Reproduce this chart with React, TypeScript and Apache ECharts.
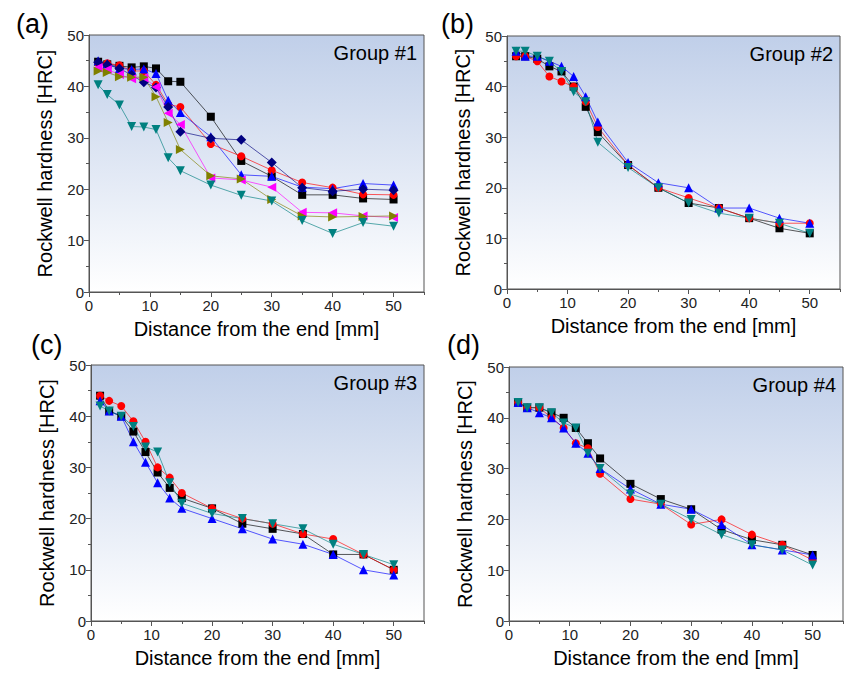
import React, { useEffect, useRef } from "react";
import * as echarts from "echarts";

const X = [1.5, 3, 5, 7, 9, 11, 13, 15, 20, 25, 30, 35, 40, 45, 50];
const TICKS_X = [0, 10, 20, 30, 40, 50];

// Group #1
const g1Black = [44.8, 44.3, 44.0, 43.7, 43.9, 43.5, 41.0, 40.9, 34.1, 25.5, 22.5, 18.9, 18.9, 18.2, 18.0];
const g1Red = [44.5, 44.5, 44.1, 43.0, 43.0, 40.3, 36.5, 36.0, 28.8, 26.4, 23.7, 21.3, 20.3, 19.0, 18.9];
const g1Blue = [45.0, 44.4, 43.5, 43.3, 43.4, 42.5, 37.3, 34.9, 30.2, 22.8, 22.5, 20.4, 20.1, 21.1, 20.8];
const g1Navy = [44.7, 44.2, 43.5, 42.2, 40.8, 39.8, 36.0, 31.2, 29.9, 29.6, 25.2, 20.3, 19.6, 20.0, 19.8];
const g1Magenta = [43.7, 43.3, 42.3, 41.5, 41.7, 39.9, 34.8, 32.6, 22.2, 21.8, 20.4, 15.5, 15.4, 14.8, 14.5];
const g1Olive = [43.0, 42.7, 41.9, 41.8, 41.8, 38.0, 33.0, 27.7, 22.6, 22.0, 18.0, 14.8, 14.6, 14.7, 14.8];
const g1Teal = [40.3, 38.4, 36.4, 32.2, 32.1, 31.6, 26.1, 23.6, 20.8, 18.8, 17.7, 13.9, 11.4, 13.5, 12.8];

// Group #2
const g2Black = [46, 46, 45.5, 44, 43, 40, 36, 31, 24.5, 20, 17, 16, 14, 12, 11];
const g2Red = [46, 46, 45, 42, 41, 40, 37, 32, 24.5, 20, 18, 16, 14, 13, 13];
const g2Blue = [47, 46, 46, 45, 44, 42, 38, 33, 25, 21, 20, 16, 16, 14, 13];
const g2Teal = [47, 47, 46, 45, 43, 39, 37, 29, 24, 20, 17, 15, 14, 13, 11];

// Group #3
const g3Black = [44, 41, 40, 37, 33, 29, 26, 24, 22, 19, 18, 17, 13, 13, 10];
const g3Red = [44, 43, 42, 39, 35, 30, 28, 25, 22, 20, 19, 17, 16, 13, 10];
const g3Blue = [43, 41, 40, 35, 31, 27, 24, 22, 20, 18, 16, 15, 13, 10, 9];
const g3Teal = [42, 41, 40, 38, 34, 33, 27, 23, 21, 20, 19, 18, 15, 13, 11];

// Group #4
const g4Black = [43, 42, 42, 41, 40, 38, 35, 32, 27, 24, 22, 18, 16, 15, 13];
const g4Red = [43, 42, 42, 40, 38, 35, 34, 29, 24, 23, 19, 20, 17, 15, 12];
const g4Blue = [43, 42, 41, 40, 38, 35, 33, 30, 26, 23, 22, 19, 15, 14, 13];
const g4Teal = [43, 42, 42, 41, 39, 38, 33, 30, 25, 23, 20, 17, 15, 14, 11];

const PANEL_LABELS = ["(a)", "(b)", "(c)", "(d)"];
const GROUP_LABELS = ["Group #1", "Group #2", "Group #3", "Group #4"];
const X_NAME = "Distance from the end [mm]";
const Y_NAME = "Rockwell hardness [HRC]";

const STYLE = {
  black: { color: "#000000", symbol: "rect", rotate: 0, size: 8 },
  red: { color: "#ff0000", symbol: "circle", rotate: 0, size: 8 },
  blue: { color: "#0000ff", symbol: "triangle", rotate: 0, size: 9 },
  navy: { color: "#000080", symbol: "diamond", rotate: 0, size: 10 },
  magenta: { color: "#ff00ff", symbol: "triangle", rotate: 90, size: 9 },
  olive: { color: "#808000", symbol: "triangle", rotate: -90, size: 9 },
  teal: { color: "#008080", symbol: "triangle", rotate: 180, size: 9 },
};

const PANELS = [
  { series: [["black", g1Black], ["red", g1Red], ["blue", g1Blue], ["navy", g1Navy], ["magenta", g1Magenta], ["olive", g1Olive], ["teal", g1Teal]] },
  { series: [["black", g2Black], ["red", g2Red], ["blue", g2Blue], ["teal", g2Teal]] },
  { series: [["black", g3Black], ["red", g3Red], ["blue", g3Blue], ["teal", g3Teal]] },
  { series: [["black", g4Black], ["red", g4Red], ["blue", g4Blue], ["teal", g4Teal]] },
];

const GRIDS = [
  { left: 89, top: 35, width: 335, height: 257 },
  { left: 507, top: 36, width: 333, height: 253 },
  { left: 91, top: 365, width: 333, height: 256 },
  { left: 509, top: 367, width: 334, height: 254 },
];

const FONT = "'Liberation Sans', Arial, sans-serif";

export default function App() {
  const ref = useRef<HTMLDivElement>(null);
  useEffect(() => {
    if (!ref.current) return;
    const chart = echarts.init(ref.current, undefined, { renderer: "svg" });
    const bg = new echarts.graphic.LinearGradient(0, 0, 0, 1, [
      { offset: 0, color: "#c0cfe9" },
      { offset: 1, color: "#ffffff" },
    ]);
    const grid: any[] = [];
    const xAxis: any[] = [];
    const yAxis: any[] = [];
    const series: any[] = [];
    const graphic: any[] = [];
    GRIDS.forEach((g, i) => {
      grid.push({ ...g, show: true, borderColor: "#555", borderWidth: 1, backgroundColor: bg });
      xAxis.push({
        type: "value", gridIndex: i, min: 0, max: 55, interval: 10,
        name: X_NAME, nameLocation: "middle", nameGap: 27,
        nameTextStyle: { fontSize: 20, color: "#000", fontFamily: FONT },
        axisLine: { lineStyle: { color: "#555", width: 1 } },
        axisTick: { show: true, length: 5, lineStyle: { color: "#555" }, customValues: TICKS_X },
        axisLabel: { fontSize: 15, color: "#222", fontFamily: FONT, margin: 6, customValues: TICKS_X },
        splitLine: { show: false },
      });
      xAxis.push({
        type: "value", gridIndex: i, min: 0, max: 55, interval: 5, position: "bottom",
        axisLine: { show: false },
        axisTick: { show: true, length: 3, lineStyle: { color: "#555" } },
        axisLabel: { show: false },
        splitLine: { show: false },
      });
      yAxis.push({
        type: "value", gridIndex: i, min: 0, max: 50, interval: 10,
        name: Y_NAME, nameLocation: "middle", nameGap: 34, nameRotate: 90,
        nameTextStyle: { fontSize: 20, color: "#000", fontFamily: FONT },
        axisLine: { show: true, lineStyle: { color: "#555", width: 1 } },
        axisTick: { show: true, length: 5, lineStyle: { color: "#555" } },
        minorTick: { show: true, splitNumber: 2, length: 3, lineStyle: { color: "#555" } },
        axisLabel: { fontSize: 15, color: "#222", fontFamily: FONT, margin: 5 },
        splitLine: { show: false },
      });
      PANELS[i].series.forEach(([key, data]: any) => {
        const s = (STYLE as any)[key];
        series.push({
          type: "line",
          xAxisIndex: i * 2,
          yAxisIndex: i,
          data: X.map((x, k) => [x, data[k]]),
          symbol: s.symbol,
          symbolSize: s.size,
          symbolRotate: s.rotate,
          itemStyle: { color: s.color },
          lineStyle: { color: s.color, width: 1, opacity: 0.65 },
          z: 3,
        });
      });
      graphic.push({
        type: "text",
        right: 860 - (g.left + g.width - 7),
        top: g.top + 8,
        style: { text: GROUP_LABELS[i], font: `20px ${FONT}`, fill: "#000" },
      });
    });
    const labelPos = [[16, 10], [441, 10], [31, 331], [447, 331]];
    labelPos.forEach(([x, y], i) => {
      graphic.push({
        type: "text", left: x, top: y,
        style: { text: PANEL_LABELS[i], font: `27px ${FONT}`, fill: "#000" },
      });
    });
    chart.setOption({
      animation: false,
      backgroundColor: "#ffffff",
      grid,
      xAxis,
      yAxis,
      series,
      graphic,
    });
    return () => chart.dispose();
  }, []);
  return (
    <div
      ref={ref}
      style={{ position: "absolute", left: 0, top: 0, width: 860, height: 680 }}
    />
  );
}
